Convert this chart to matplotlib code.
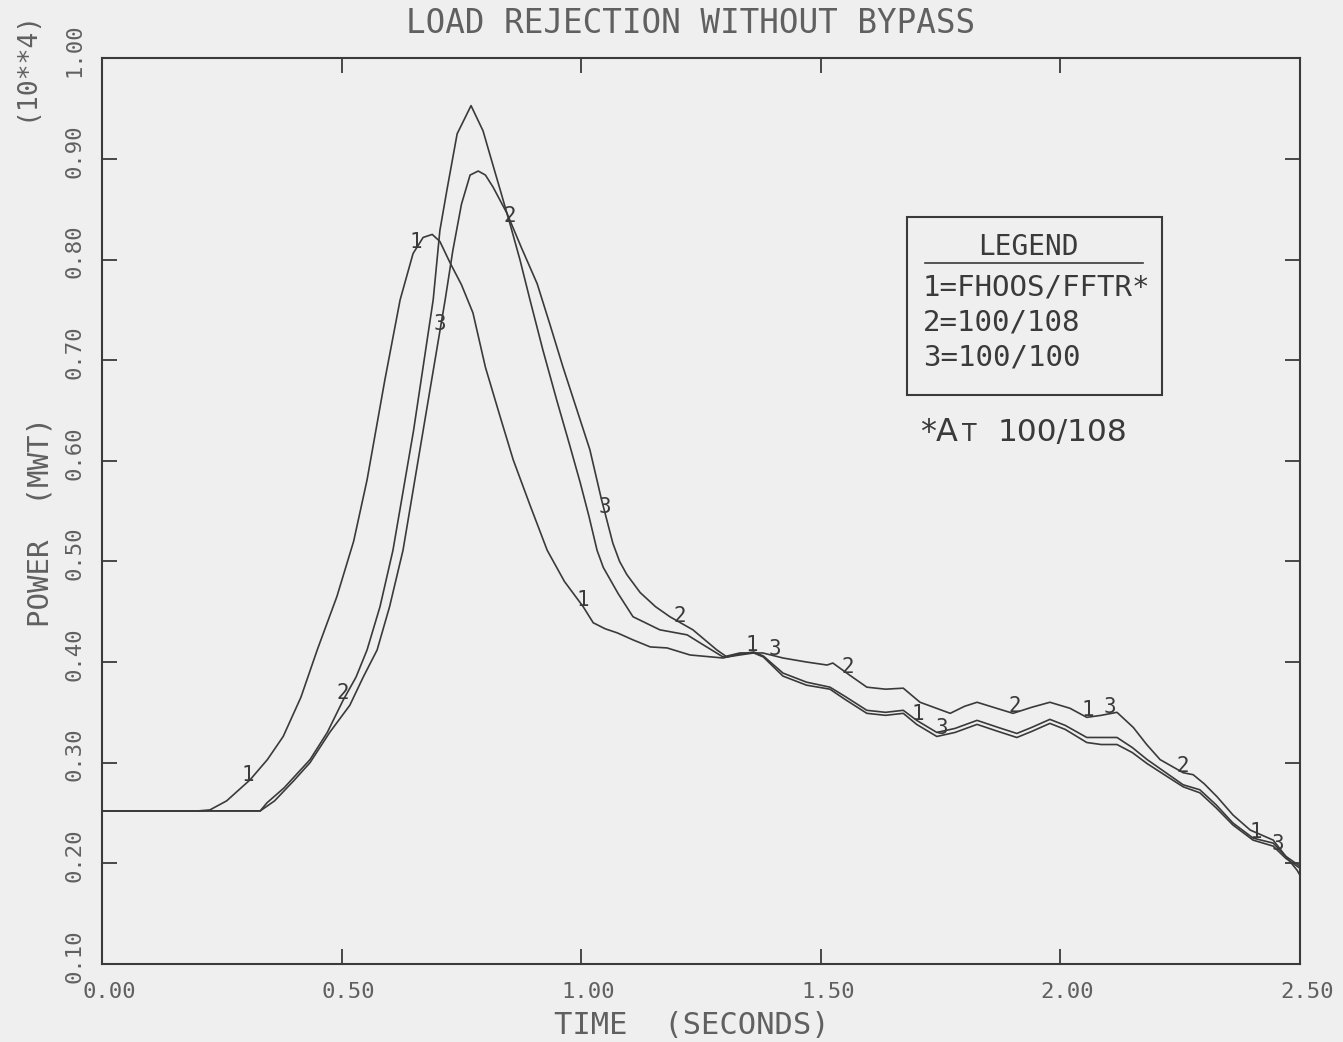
import numpy as np
import matplotlib
matplotlib.use("Agg")
import matplotlib.pyplot as plt
from matplotlib.transforms import ScaledTranslation

# curve 1 = FHOOS/FFTR, curve 2 = 100/108, curve 3 = 100/100
t1 = [0.0, 0.20, 0.225, 0.26, 0.309, 0.345, 0.378, 0.415, 0.449, 0.49, 0.525,
      0.553, 0.59, 0.622, 0.649, 0.67, 0.689, 0.705, 0.726, 0.75, 0.774, 0.80,
      0.83, 0.858, 0.893, 0.929, 0.965, 1.004, 1.025, 1.05, 1.075, 1.108, 1.144,
      1.179, 1.227, 1.296, 1.331, 1.36, 1.38, 1.421, 1.47, 1.519, 1.55, 1.596,
      1.635, 1.672, 1.70, 1.742, 1.78, 1.826, 1.87, 1.909, 1.94, 1.978, 2.01,
      2.055, 2.085, 2.118, 2.15, 2.181, 2.22, 2.256, 2.291, 2.325, 2.36, 2.402,
      2.444, 2.47, 2.50]
p1 = [0.252, 0.252, 0.253, 0.262, 0.283, 0.303, 0.326, 0.365, 0.412, 0.465, 0.52,
      0.581, 0.68, 0.760, 0.806, 0.822, 0.825, 0.818, 0.797, 0.775, 0.747, 0.693,
      0.645, 0.601, 0.556, 0.511, 0.48, 0.455, 0.439, 0.433, 0.429, 0.422, 0.415,
      0.414, 0.407, 0.404, 0.408, 0.410, 0.406, 0.389, 0.380, 0.375, 0.366, 0.352,
      0.350, 0.352, 0.342, 0.330, 0.334, 0.342, 0.335, 0.329, 0.335, 0.343, 0.337,
      0.325, 0.325, 0.325, 0.315, 0.303, 0.290, 0.278, 0.273, 0.258, 0.240, 0.225,
      0.220, 0.207, 0.197]

t2 = [0.0, 0.33, 0.344, 0.38, 0.434, 0.47, 0.503, 0.53, 0.553, 0.58, 0.607,
      0.65, 0.691, 0.705, 0.72, 0.741, 0.770, 0.795, 0.812, 0.831, 0.851, 0.872,
      0.893, 0.92, 0.949, 0.975, 0.998, 1.016, 1.033, 1.046, 1.077, 1.108, 1.164,
      1.221, 1.248, 1.296, 1.331, 1.379, 1.421, 1.47, 1.513, 1.525, 1.56, 1.596,
      1.635, 1.672, 1.707, 1.77, 1.80, 1.826, 1.86, 1.901, 1.94, 1.978, 2.02,
      2.055, 2.085, 2.118, 2.152, 2.18, 2.208, 2.256, 2.277, 2.30, 2.327, 2.36,
      2.396, 2.444, 2.47, 2.494, 2.50]
p2 = [0.252, 0.252, 0.260, 0.275, 0.303, 0.33, 0.362, 0.385, 0.412, 0.455, 0.511,
      0.63, 0.760, 0.829, 0.870, 0.925, 0.953, 0.928, 0.900, 0.869, 0.836, 0.800,
      0.760, 0.71, 0.660, 0.617, 0.578, 0.545, 0.511, 0.494, 0.468, 0.445, 0.432,
      0.427, 0.419, 0.405, 0.409, 0.409, 0.404, 0.400, 0.397, 0.399, 0.387, 0.375,
      0.373, 0.374, 0.360, 0.349, 0.356, 0.360, 0.355, 0.349, 0.355, 0.360, 0.354,
      0.345, 0.347, 0.350, 0.335, 0.318, 0.303, 0.290, 0.288, 0.279, 0.266, 0.248,
      0.233, 0.223, 0.207, 0.193, 0.188]

t3 = [0.0, 0.33, 0.36, 0.40, 0.434, 0.475, 0.517, 0.545, 0.574, 0.60, 0.628,
      0.67, 0.716, 0.732, 0.75, 0.768, 0.785, 0.80, 0.816, 0.845, 0.875, 0.908,
      0.935, 0.962, 0.99, 1.018, 1.042, 1.066, 1.08, 1.095, 1.123, 1.155, 1.185,
      1.233, 1.283, 1.304, 1.331, 1.36, 1.38, 1.421, 1.47, 1.519, 1.55, 1.596,
      1.635, 1.672, 1.70, 1.742, 1.78, 1.826, 1.87, 1.909, 1.94, 1.978, 2.01,
      2.055, 2.085, 2.118, 2.15, 2.181, 2.22, 2.256, 2.291, 2.325, 2.36, 2.402,
      2.444, 2.47, 2.50]
p3 = [0.252, 0.252, 0.262, 0.282, 0.300, 0.33, 0.357, 0.385, 0.412, 0.455, 0.511,
      0.63, 0.760, 0.809, 0.855, 0.884, 0.888, 0.884, 0.872, 0.846, 0.812, 0.776,
      0.735, 0.693, 0.652, 0.611, 0.562, 0.518, 0.500, 0.487, 0.469, 0.455, 0.445,
      0.432, 0.412, 0.405, 0.407, 0.409, 0.405, 0.386, 0.377, 0.373, 0.363, 0.349,
      0.347, 0.349, 0.338, 0.326, 0.330, 0.338, 0.331, 0.325, 0.331, 0.339, 0.333,
      0.320, 0.318, 0.318, 0.310, 0.299, 0.287, 0.276, 0.270, 0.255, 0.238, 0.223,
      0.217, 0.205, 0.195]

# curve tags written along the lines: text, time, which curve it sits on
tag_text = ["1", "2", "1", "3", "2", "1", "3", "2", "1", "3", "2",
            "1", "3", "2", "1", "3", "2", "1", "3"]
tag_time = [0.305, 0.503, 0.655, 0.705, 0.851, 1.004, 1.05, 1.206, 1.356, 1.404, 1.557,
            1.703, 1.753, 1.905, 2.058, 2.104, 2.256, 2.408, 2.454]
tag_curve = [1, 2, 1, 3, 2, 1, 3, 3, 1, 2, 2,
             1, 3, 2, 2, 2, 2, 1, 3]

legend_lines = ["1=FHOOS/FFTR*", "2=100/108", "3=100/100"]

bg = "#efefef"
ink = "#3a3a3a"
txt = "#606060"
mono = "DejaVu Sans Mono"

fig = plt.figure(figsize=(13.43, 10.42), dpi=100, facecolor=bg)
ax = fig.add_axes([0.076, 0.075, 0.892, 0.869], facecolor=bg)

curves = {1: (t1, p1), 2: (t2, p2), 3: (t3, p3)}
for k in (1, 2, 3):
    ax.plot(curves[k][0], curves[k][1], color=ink, lw=1.2)

for s, tt, k in zip(tag_text, tag_time, tag_curve):
    yy = np.interp(tt, curves[k][0], curves[k][1])
    ax.annotate(s, (tt, yy), xytext=(0, 5), textcoords="offset points",
                ha="center", va="center", fontsize=15, family=mono, color=ink)

ax.set_xlim(0, 2.5)
ax.set_ylim(0.1, 1.0)
ax.set_xticks(np.arange(0, 2.51, 0.5))
ax.set_yticks(np.arange(0.1, 1.01, 0.1))
ax.set_xticklabels(["%.2f" % v for v in np.arange(0, 2.51, 0.5)], family=mono,
                   fontsize=16, color=txt)
ax.set_yticklabels(["%.2f" % v for v in np.arange(0.1, 1.01, 0.1)], family=mono,
                   fontsize=16, color=txt, rotation=90, va="center")
ax.tick_params(direction="in", length=11, width=1.3, color=ink,
               top=True, right=True, pad=13)
for sp in ax.spines.values():
    sp.set_color(ink)
    sp.set_linewidth(1.5)

# plotter offsets of the tick numbers
for lbl in ax.get_xticklabels():
    lbl.set_transform(lbl.get_transform() + ScaledTranslation(0.07, 0, fig.dpi_scale_trans))
for lbl in ax.get_yticklabels():
    lbl.set_transform(lbl.get_transform() + ScaledTranslation(0, 0.08, fig.dpi_scale_trans))

fig.text(0.514, 0.977, "LOAD REJECTION WITHOUT BYPASS", ha="center", va="center",
         fontsize=23.5, family=mono, color=txt)
fig.text(0.515, 0.016, "TIME  (SECONDS)", ha="center", va="center",
         fontsize=22, family=mono, color=txt)
fig.text(0.030, 0.499, "POWER  (MWT)", ha="center", va="center", rotation=90,
         fontsize=21, family=mono, color=txt)
fig.text(0.019, 0.937, "(10**4)", ha="center", va="center", rotation=90,
         fontsize=19, family=mono, color=txt)

# legend box
ax.add_patch(plt.Rectangle((0.6755, 0.621), 0.190, 0.171, transform=fig.transFigure,
                           fill=False, ec=ink, lw=1.5))
fig.text(0.766, 0.763, "LEGEND", ha="center", va="center", fontsize=20,
         family=mono, color=ink)
fig.add_artist(plt.Line2D([0.689, 0.851], [0.748, 0.748], color=ink, lw=1.2))
for i, s in enumerate(legend_lines):
    fig.text(0.687, 0.724 - i * 0.0335, s, ha="left", va="center", fontsize=21,
             family=mono, color=ink)
fig.text(0.685, 0.577, "*A", ha="left", va="baseline", fontsize=23, color=ink)
fig.text(0.716, 0.577, "T", ha="left", va="baseline", fontsize=17, color=ink)
fig.text(0.743, 0.577, "100/108", ha="left", va="baseline", fontsize=22.5, color=ink)

fig.savefig("out.png", dpi=100, facecolor=bg)
